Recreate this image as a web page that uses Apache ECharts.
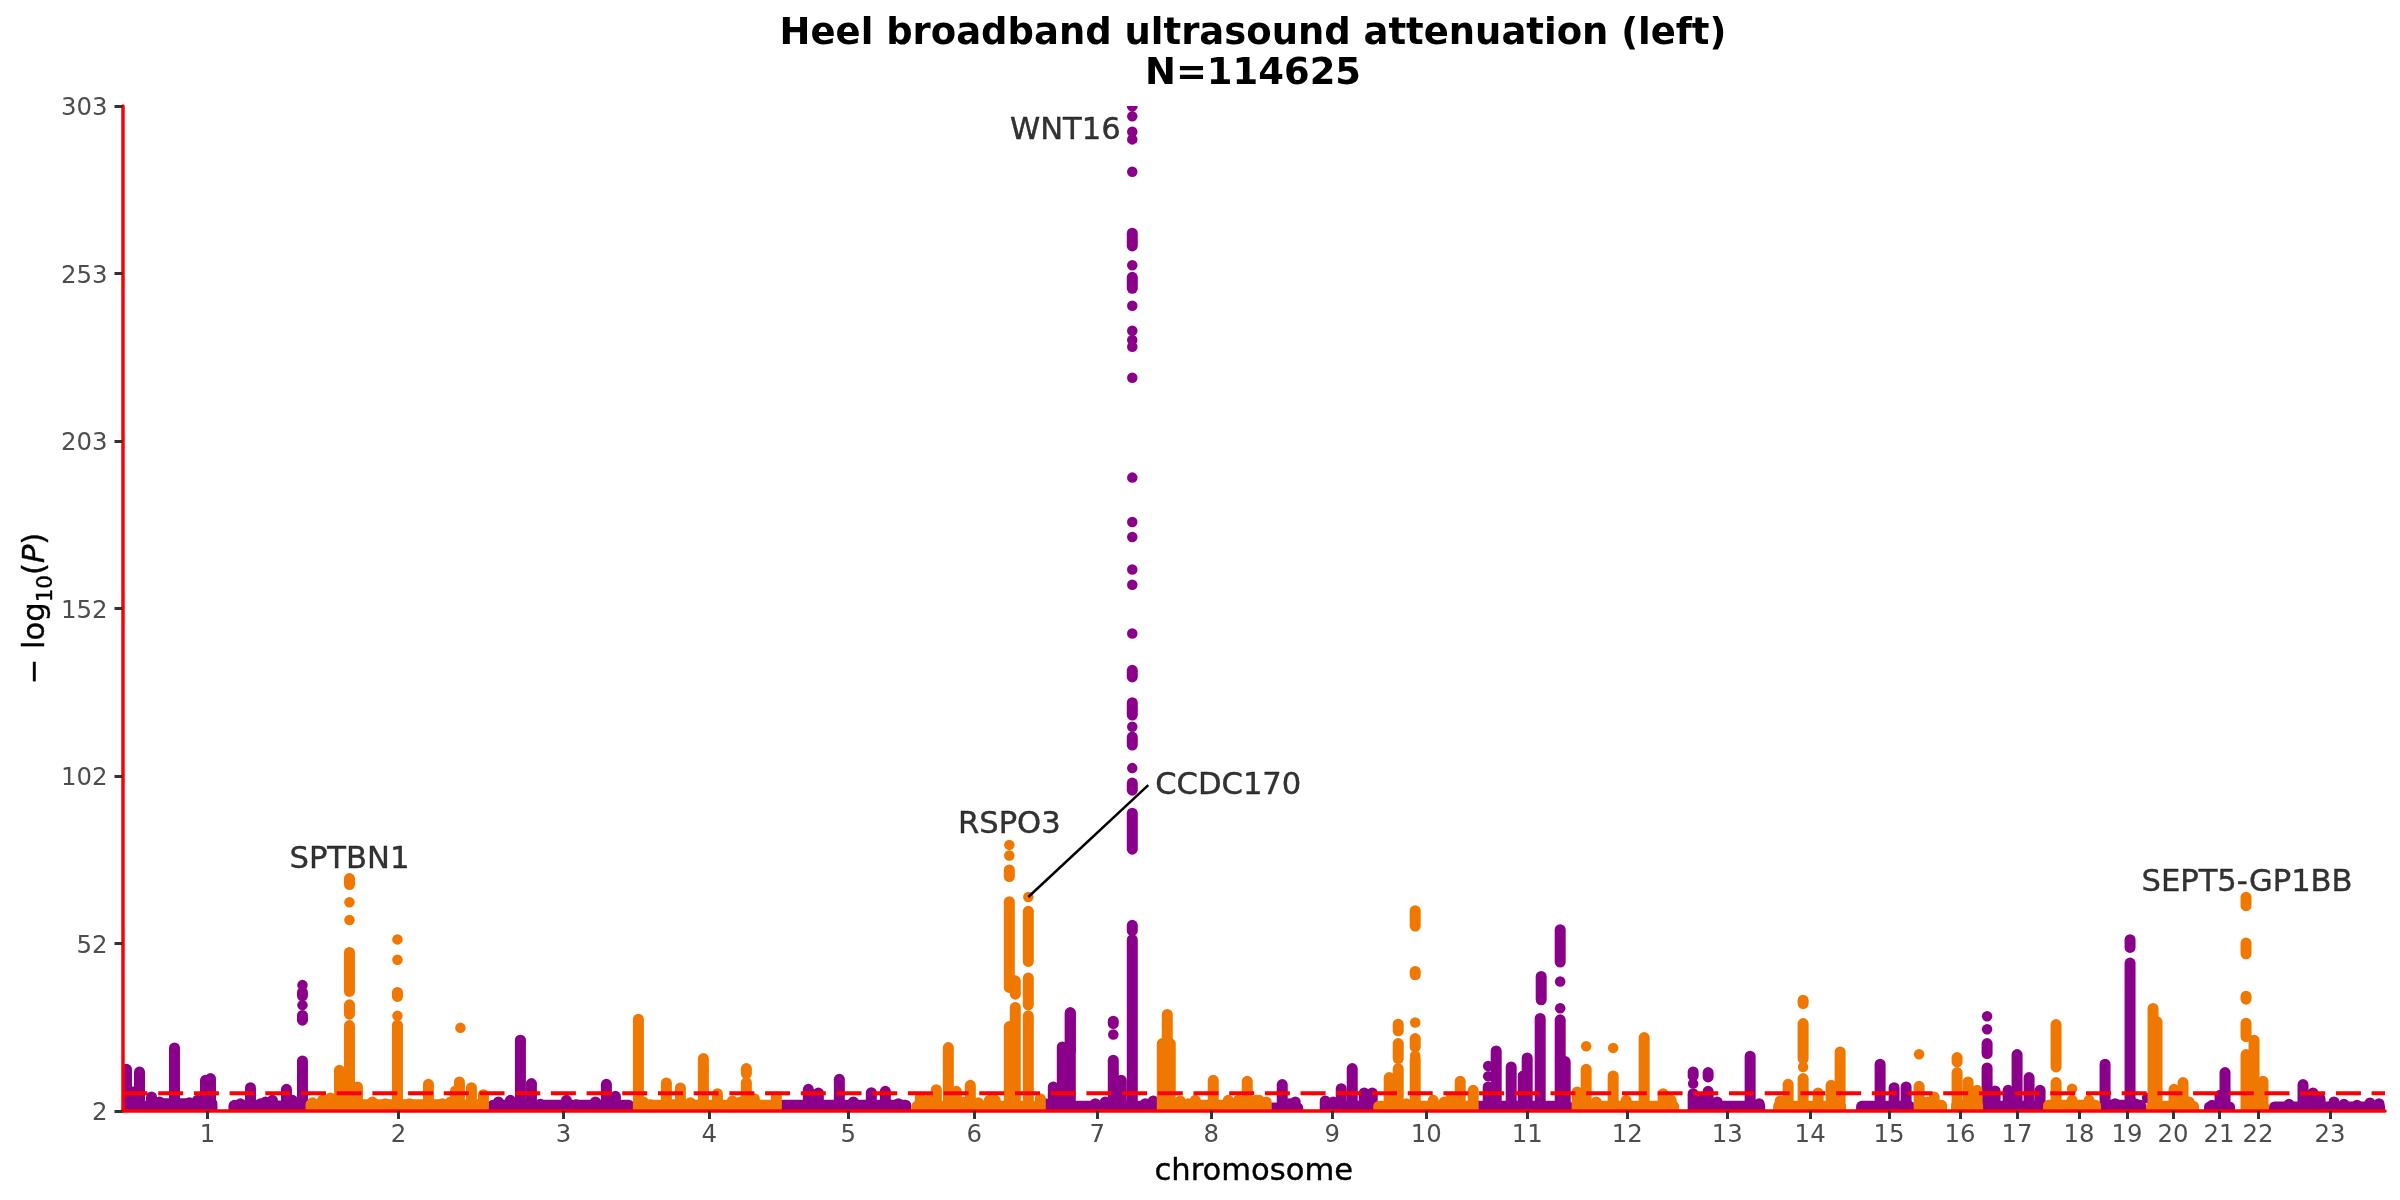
<!DOCTYPE html>
<html>
<head>
<meta charset="utf-8">
<style>html,body{margin:0;padding:0;background:#fff}#c{width:2400px;height:1200px}</style>
<script src="https://cdn.jsdelivr.net/npm/echarts@6/dist/echarts.min.js"></script>
</head>
<body>
<div id="c"></div>
<script>
// cumulative genome position (arbitrary units along the x axis), -log10(P)
const xTicks = [85,276,441,587,726,852,975,1089,1210,1304,1405,1505,1605,1688,1767,1838,1895,1957,2005,2051,2097,2136,2208];
const xLabels = ['1','2','3','4','5','6','7','8','9','10','11','12','13','14','15','16','17','18','19','20','21','22','23'];
const yTicks = [2,52.17,102.33,152.5,202.67,252.83,303];
const yLabels = ['2','52','102','152','203','253','303'];
const threshold = 7.3;

// low background bands: [start, end, top]
const purpleFloors = [[0,22,7.7],[22,95,4.2],[106,183,3.5],[365,512,3.7],[655,789,3.7],[916,1036,3.4],[1145,1181,2.9],[1198,1251,3.4],[1351,1451,3.4],[1566,1643,3.4],[1734,1793,3.4],[1861,1921,3.4],[1979,2024,3.7],[2082,2113,3.2],[2147,2263,3.2]];
const orangeFloors = [[183,365,3.9],[512,655,3.7],[789,916,3.4],[1036,1145,3.7],[1251,1351,3.4],[1451,1557,3.4],[1651,1724,3.4],[1793,1825,3.7],[1829,1861,3.7],[1921,1979,3.7],[2024,2077,3.4],[2119,2147,3.4]];

// solid columns rising from the base: [position, top]
const purpleColumns = [[4,14.5],[17,13.7],[29,6.2],[37,4.7],[52,20.9],[67,4.5],[75,5.2],[83,11.2],[88,11.7],[112,3.7],[118,4.2],[128,9],[138,4.2],[143,4.7],[150,5.2],[164,8.5],[170,5.2],[180,17],
 [376,4.7],[388,5.2],[398,23.2],[409,10.2],[418,4],[444,5.2],[454,3.9],[473,4.7],[484,10],[493,6.4],
 [686,8.5],[696,7.4],[717,11.5],[731,4.7],[749,7.5],[763,7.9],[776,4.2],
 [923,4.2],[931,9.2],[940,21.2],[948,31.4],[973,4.2],[983,4.7],[991,17.2],[999,11.2],[1010,53.3],[1023,4.2],[1031,5],
 [1160,9.9],[1167,4.2],[1173,4.7],[1203,5],[1211,4.7],[1219,8.7],[1230,14.7],[1242,7.4],[1250,7.4],
 [1366,9.2],[1374,20],[1389,15.2],[1401,12.5],[1405,17.9],[1418,29.7],[1438,29.3],[1443,16.8],
 [1571,7.2],[1579,5.2],[1586,7.9],[1595,4.7],[1628,18.4],[1637,4.2],
 [1758,16],[1772,9],[1784,9.2],
 [1865,14.9],[1873,8],[1886,8.2],[1895,18.9],[1907,12],[1918,8.2],
 [1983,16],[1993,4.2],[2008,46.3],[2013,4.2],
 [2090,3.7],[2098,6.7],[2103,13.5],
 [2167,4],[2181,9.9],[2191,7.4],[2198,5.7],[2212,4.7],[2222,4],[2235,3.7],[2248,4.4],[2257,4.2]];
const orangeColumns = [[190,4.5],[200,5.2],[208,5.9],[217,14.2],[227,27.6],[235,9.2],[250,4.7],[263,4.2],[275,27.7],[287,4.2],[306,10],[320,4.2],[328,4.7],[337,10.7],[333,8],[349,9],[361,6.9],
 [516,29.5],[521,4.7],[528,3.9],[544,10.4],[551,3.9],[558,8.9],[568,4.5],[581,14.5],[595,7.2],[610,5],[618,4.7],[624,10.5],[632,5.7],[654,6.2],
 [798,6.2],[806,5.2],[814,8.4],[826,21],[834,7.9],[841,4.7],[848,9.7],[856,4.5],[867,5.2],[873,5.2],[887,27.3],[893,33],[906,30.5],[918,5.7],
 [1040,22.2],[1045,30.9],[1048,22.2],[1058,5],[1066,4.2],[1073,5.2],[1091,11.2],[1106,5.2],[1116,5.2],[1125,10.9],[1134,5.2],[1137,5.2],[1144,4.7],
 [1267,12],[1276,14.7],[1284,4.2],[1293,17.5],[1311,5.2],[1322,4.7],[1329,6.2],[1338,10.9],[1351,8.2],
 [1455,7.7],[1464,14.5],[1474,4.7],[1491,12.5],[1504,5.2],[1522,24],[1541,7.2],[1549,5.2],
 [1658,5],[1666,10],[1681,11.7],[1696,7.4],[1709,9.7],[1718,19.7],
 [1797,9.4],[1805,4.7],[1812,6.2],[1835,13.5],[1846,10.7],[1855,8.2],
 [1934,10.5],[1950,5.2],[1967,5.2],
 [2031,32.7],[2033,20],[2035,28.7],[2052,8.5],[2061,10.5],[2067,4.7],
 [2124,18.9],[2132,23.2],[2141,10.9]];

// floating runs of merged points: [position, low, high]
const purpleSegments = [[180,36.5,37.5],[180,29.2,30.6],[948,20,31.4],
 [991,28.2,28.9],[1010,56,57.6],[1010,80.4,91.2],[1010,98.1,100.2],[1010,111.6,114],[1010,120.6,124.3],[1010,132,134],
 [1010,248.4,251.7],[1010,261.1,264.9],[1010,303,303],
 [1419,35.3,42.3],[1438,46.6,56.3],[1571,12.5,13.7],[1586,12.2,13.5],
 [1865,19.2,22.2],[2008,51,53.3]];
const orangeSegments = [[227,37.8,49.5],[227,31,33.8],[227,69.8,71.6],[275,36.3,37.5],[581,14.5,17.7],[624,13.2,14.7],
 [887,39,64.7],[887,72.2,74.2],[893,37,41],[906,46.8,61.8],[906,33.8,41.8],
 [1276,26,28],[1276,17.7,22.2],[1293,57.4,62],[1293,42.8,43.8],[1293,21.2,23.7],
 [1681,17.7,28.2],[1681,34.2,35.2],[1835,16.7,18],[1934,15.2,27.9],
 [2124,24.3,28.3],[2124,35.5,36.4],[2124,49.1,52.3],[2124,63.5,66]];

// separately visible points: [position, value]
const purpleDots = [[180,39.7],[180,33.7],[398,23.2],[991,24.9],
 [1010,299.9],[1010,295.3],[1010,293],[1010,283.3],[1010,255.3],[1010,243.2],[1010,235.7],[1010,232.9],[1010,230.9],[1010,221.6],
 [1010,191.7],[1010,178.4],[1010,173.9],[1010,164.2],[1010,159.6],[1010,145],[1010,117.1],[1010,104.7],
 [1366,15.5],[1366,12.4],[1401,12.5],[1438,40.8],[1438,32.8],[1571,10.2],[1865,30.4],[1865,26.5],[2025,5.9]];
const orangeDots = [[227,64.5],[227,59.2],[275,53.4],[275,47.3],[275,30.5],[338,26.9],
 [887,81.7],[887,78.5],[906,66.1],[1293,28.5],[1293,18.6],[1464,21.4],[1491,20.9],[1681,15.2],[1797,19],[1950,8.7]];

const geneNames = ['SPTBN1','RSPO3','WNT16','CCDC170','SEPT5-GP1BB'];
const genePositions = [[227,77.1],[887,87.6],[943,295.5],[1106,99.3],[2125,70.2]];
const pointerLine = [[906,66.1],[1026,99.6]];

const PURPLE = '#8B008B', ORANGE = '#F07800', FONT = '"DejaVu Sans"';
const DOT = 10.5, RUN = 11;

function rows(floors, columns, segments) {
  return floors.map(f => [f[0], f[1], 2, f[2], 0])
    .concat(columns.map(c => [c[0], c[0], 2, c[1], 1]))
    .concat(segments.map(s => [s[0], s[0], s[1], s[2], 2]));
}
function renderRun(params, api) {
  const kind = api.value(4);
  const a = api.coord([api.value(0), api.value(3)]);
  const b = api.coord([api.value(1), api.value(2)]);
  const r = RUN / 2;
  let x = a[0], w = b[0] - a[0];
  if (kind !== 0) { x = a[0] - r; w = RUN; }
  const top = a[1] - r;
  const bottom = kind === 2 ? b[1] + r : b[1];
  return {
    type: 'rect',
    shape: { x: x, y: top, width: w, height: bottom - top, r: kind === 2 ? r : [r, r, 0, 0] },
    style: { fill: api.visual('color') }
  };
}
function runSeries(color, data, z) {
  return { type: 'custom', data: data, renderItem: renderRun, clip: true, silent: true, z: z,
    encode: { x: [0, 1], y: [2, 3] }, itemStyle: { color: color } };
}
function dotSeries(color, data, z) {
  return { type: 'scatter', data: data, symbolSize: DOT, silent: true, z: z,
    itemStyle: { color: color, opacity: 1 } };
}

const chart = echarts.init(document.getElementById('c'), null, { renderer: 'canvas' });
chart.setOption({
  animation: false,
  backgroundColor: '#fff',
  title: {
    text: 'Heel broadband ultrasound attenuation (left)\nN=114625',
    left: 1248, top: 9, textAlign: 'center',
    textStyle: { fontFamily: FONT, fontWeight: 'bold', fontSize: 36.95, lineHeight: 40, color: '#000' }
  },
  grid: { left: 122.5, right: 15, top: 106, bottom: 89, containLabel: false, outerBoundsMode: 'none' },
  xAxis: {
    type: 'value', min: 0, max: 2263, z: 5,
    name: 'chromosome', nameLocation: 'middle', nameGap: 46,
    nameTextStyle: { fontFamily: FONT, fontSize: 30.6, color: '#000', textBorderColor: '#000', textBorderWidth: 0.4 },
    splitLine: { show: false },
    axisLine: { show: true, onZero: false, lineStyle: { color: '#FF0000', width: 3.5 } },
    axisTick: { show: true, customValues: xTicks, length: 8, lineStyle: { color: '#333', width: 3 } },
    axisLabel: { show: true, customValues: xTicks, margin: 13, fontFamily: FONT, fontSize: 24.4, color: '#4d4d4d',
      formatter: v => xLabels[xTicks.indexOf(v)] }
  },
  yAxis: {
    type: 'value', min: 2, max: 303, z: 5,
    name: '{a|− log}{s|10}{a|(}{i|P}{a|)}', nameLocation: 'middle', nameRotate: 90, nameGap: 66, nameMoveOverlap: false,
    nameTextStyle: {
      fontFamily: FONT, color: '#000',
      rich: {
        a: { fontFamily: FONT, fontSize: 30.6, color: '#000', lineHeight: 40, textBorderColor: '#000', textBorderWidth: 0.4 },
        s: { fontFamily: FONT, fontSize: 21.4, color: '#000', verticalAlign: 'bottom', lineHeight: 32, textBorderColor: '#000', textBorderWidth: 0.4 },
        i: { fontFamily: FONT, fontSize: 30.6, fontStyle: 'italic', color: '#000', lineHeight: 40, textBorderColor: '#000', textBorderWidth: 0.4 }
      }
    },
    splitLine: { show: false },
    axisLine: { show: true, onZero: false, lineStyle: { color: '#FF0000', width: 3.5 } },
    axisTick: { show: true, customValues: yTicks, length: 8, lineStyle: { color: '#333', width: 3 } },
    axisLabel: { show: true, customValues: yTicks, margin: 15, verticalAlign: 'top', lineHeight: 6, fontFamily: FONT, fontSize: 24.4, color: '#4d4d4d',
      formatter: v => yLabels[yTicks.indexOf(v)] }
  },
  series: [
    runSeries(PURPLE, rows(purpleFloors, purpleColumns, purpleSegments), 2),
    dotSeries(PURPLE, purpleDots, 2),
    runSeries(ORANGE, rows(orangeFloors, orangeColumns, orangeSegments), 3),
    dotSeries(ORANGE, orangeDots, 3),
    { type: 'custom', silent: true, z: 4, clip: true, data: [[0, 2263, threshold]],
      encode: { x: [0, 1], y: 2 },
      renderItem: function (params, api) {
        const a = api.coord([api.value(0), api.value(2)]);
        const b = api.coord([api.value(1), api.value(2)]);
        return { type: 'line', shape: { x1: a[0], y1: a[1], x2: b[0], y2: b[1] },
          style: { stroke: '#FF0000', lineWidth: 4, lineDash: [25, 10.7], fill: null } };
      } },
    { type: 'line', data: pointerLine, symbol: 'none', silent: true, z: 6,
      lineStyle: { color: '#000', width: 2.5 } },
    { type: 'scatter', symbolSize: 0, silent: true, z: 7,
      data: geneNames.map((n, i) => ({ name: n, value: genePositions[i] })),
      label: { show: true, position: 'inside', formatter: '{b}', fontFamily: FONT, fontSize: 30.6, color: '#000', textBorderColor: '#000', textBorderWidth: 0.4 } }
  ]
});
</script>
</body>
</html>
